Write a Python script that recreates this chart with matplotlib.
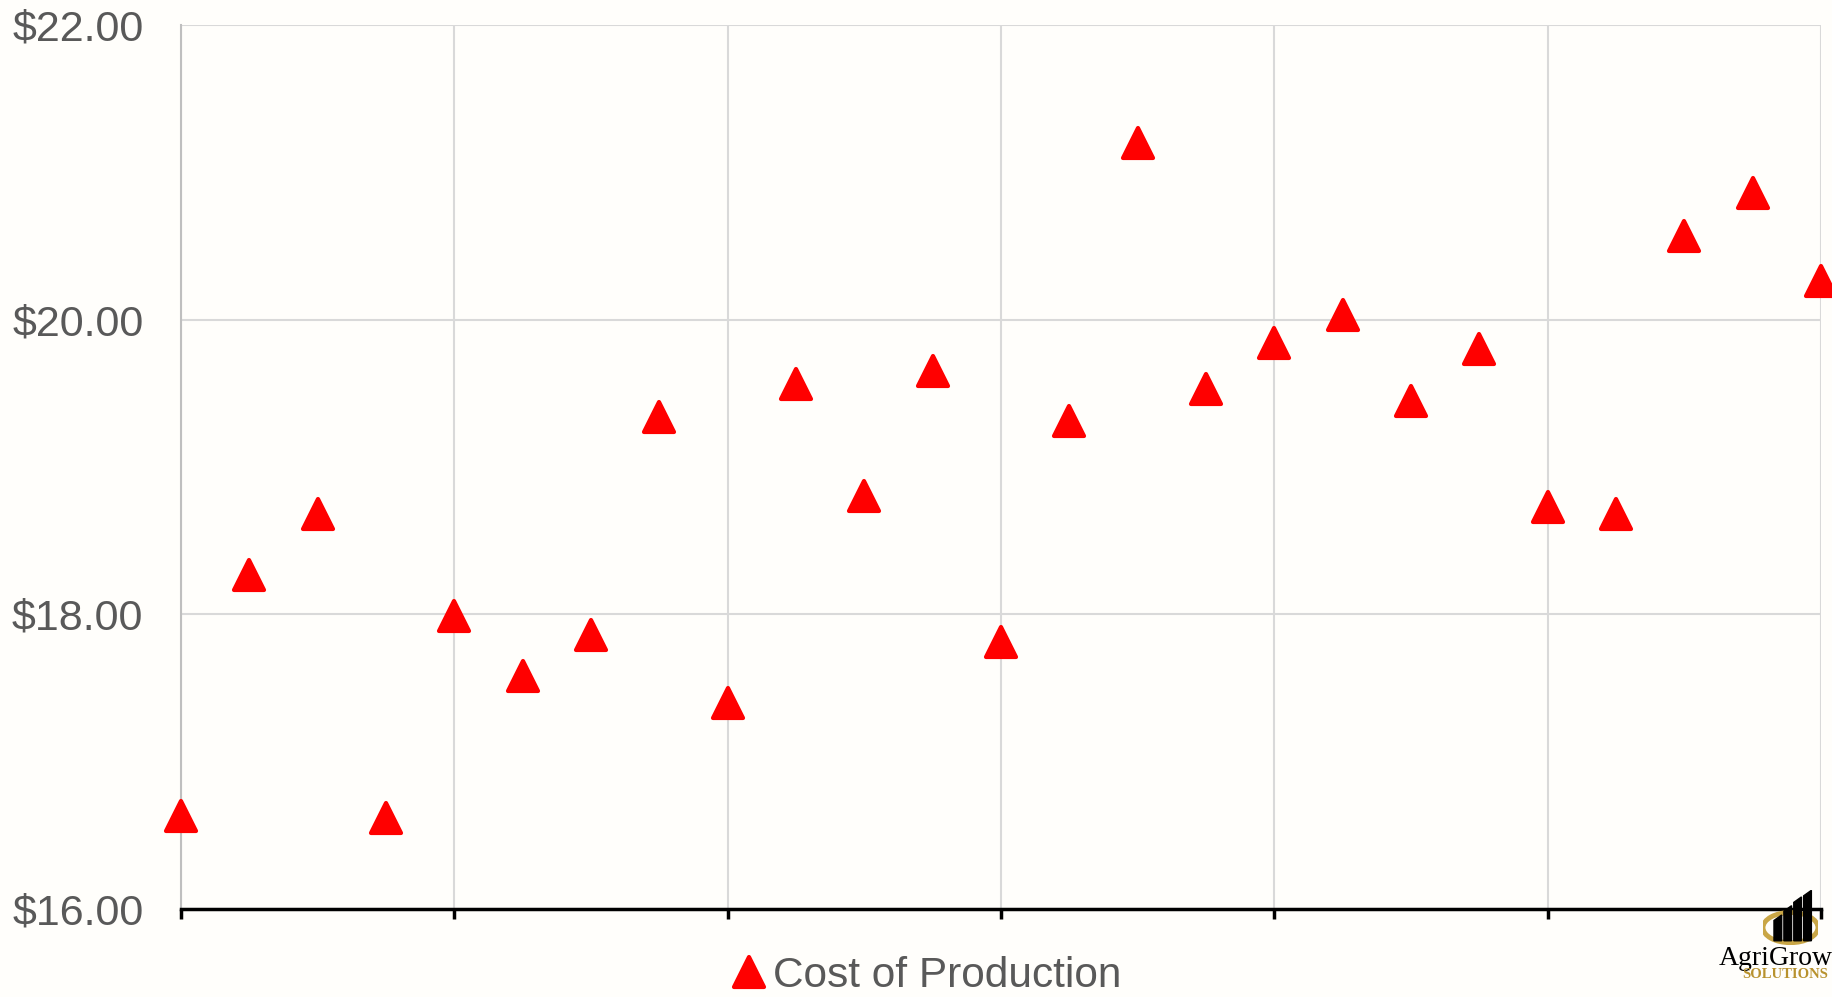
import matplotlib.pyplot as plt
from matplotlib.markers import MarkerStyle
from matplotlib.patches import Ellipse, Polygon
import numpy as np

# Cost of production per period
periods = np.arange(25)
cost = [16.63, 18.27, 18.68, 16.62, 17.99, 17.58, 17.86, 19.34, 17.40, 19.56,
        18.80, 19.65, 17.81, 19.31, 21.20, 19.53, 19.84, 20.03, 19.45, 19.80,
        18.73, 18.68, 20.57, 20.86, 20.26]
y_ticks = [16, 18, 20, 22]
y_labels = ['$16.00', '$18.00', '$20.00', '$22.00']
x_grid = [0, 4, 8, 12, 16, 20, 24]

plt.rcParams['font.family'] = ['Liberation Sans', 'DejaVu Sans']

fig = plt.figure(figsize=(18.33, 9.97), dpi=100)
fig.patch.set_facecolor('#fffefb')
ax = fig.add_axes([0.0987, 0.0883, 0.8948, 0.8866])
ax.set_facecolor('none')

tri = MarkerStyle('^', joinstyle='round')
ax.plot(periods, cost, linestyle='none', marker=tri, markersize=21,
        color='#ff0000', markeredgecolor='#ff0000', markeredgewidth=3,
        clip_on=False, zorder=5, label='Cost of Production')

ax.set_xlim(0, 24)
ax.set_ylim(16, 22)
ax.set_xticks(x_grid)
ax.set_xticklabels([])
ax.set_yticks(y_ticks)
ax.set_yticklabels(y_labels, fontsize=31, color='#595959')
ax.tick_params(axis='y', length=0, pad=27)
ax.tick_params(axis='x', direction='out', length=7, width=2.5, color='black')
ax.grid(True, color='#d9d9d9', linewidth=1.5)

ax.spines['top'].set_visible(False)
ax.spines['right'].set_visible(False)
ax.spines['left'].set_color('#bfbfbf')
ax.spines['left'].set_linewidth(1.5)
ax.spines['bottom'].set_color('black')
ax.spines['bottom'].set_linewidth(2.5)

leg = fig.legend(loc='center', bbox_to_anchor=(0.505, 0.021), frameon=False,
                 fontsize=30.5, handlelength=0.9, handletextpad=0.1,
                 labelcolor='#595959', markerscale=1.0)

# AgriGrow logo in the corner: bar icon with a gold ring, then the name
lax = fig.add_axes([0.9618, 0.052, 0.030, 0.055])
lax.set_xlim(0, 1)
lax.set_ylim(0, 1)
lax.axis('off')
lax.add_patch(Ellipse((0.5, 0.32), 1.0, 0.55, fill=False,
                      edgecolor='#c9a646', linewidth=3.5, zorder=1))
bars = [(0.20, 0.55), (0.38, 0.72), (0.56, 0.88), (0.74, 1.0)]
for bx, bh in bars:
    lax.add_patch(Polygon([(bx, 0.08), (bx + 0.14, 0.08), (bx + 0.14, bh),
                           (bx, bh - 0.1)], closed=True, color='black',
                          zorder=2))
fig.text(0.9375, 0.032, 'AgriGrow', fontsize=20, family='Liberation Serif',
         color='black', ha='left', va='baseline')
fig.text(0.9505, 0.019, 'SOLUTIONS', fontsize=10.5, family='Liberation Serif',
         color='#b8922e', ha='left', va='baseline', fontweight='bold')

fig.savefig('out.png', dpi=100, facecolor=fig.get_facecolor())
